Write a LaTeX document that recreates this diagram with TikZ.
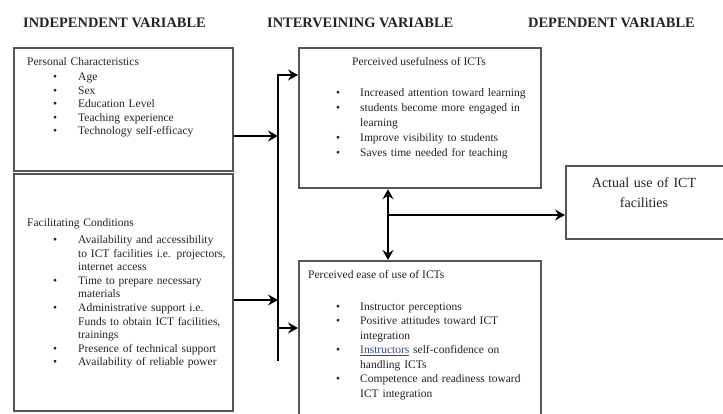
\documentclass[tikz,border=0pt]{standalone}
\usepackage{fontspec}
\setmainfont{Liberation Serif}
\usetikzlibrary{arrows.meta,calc}
\definecolor{boxgray}{RGB}{85,85,85}
\definecolor{txt}{RGB}{35,35,35}
\definecolor{linkblue}{RGB}{55,75,135}
\newlength\itmL
\newlength\itmG
\newcommand\itm[1]{{\leftskip=\itmL\relax\noindent\llap{\textbullet\hspace{\itmG}}#1\par}}
\begin{document}
\begin{tikzpicture}[x=1pt,y=-1pt,
  box/.style={draw=boxgray, line width=2.2pt, anchor=north west, inner sep=0pt},
  hdr/.style={anchor=base west, inner sep=0pt, text=txt, font=\fontsize{14.4}{17}\selectfont\bfseries},
  body/.style={anchor=base west, inner sep=0pt, text=txt, text width=#1, align=left},
  arr/.style={line width=2.3pt, -{Stealth[length=10pt,width=11pt,inset=3.5pt]}},
  darr/.style={line width=2.3pt, {Stealth[length=10pt,width=11pt,inset=3.5pt]}-{Stealth[length=10pt,width=11pt,inset=3.5pt]}},
]
\useasboundingbox (0,0) rectangle (723,413);
\fill[white] (0,0) rectangle (723,413);

% headers
\node[hdr] (h1) at (23,27) {INDEPENDENT VARIABLE};
\node[hdr] (h2) at (267,27) {INTERVEINING VARIABLE};
\node[hdr] (h3) at (528,27) {DEPENDENT VARIABLE};

% boxes
\node[box, minimum width=219pt, minimum height=123pt] (pers) at (13,47) {};
\node[box, minimum width=219pt, minimum height=237pt] (fac) at (13,172.5) {};
\node[box, minimum width=242pt, minimum height=140pt] (useful) at (298,47) {};
\node[box, minimum width=242pt, minimum height=165pt] (ease) at (298,260) {};
\node[box, minimum width=165pt, minimum height=73pt] (actual) at (565,165) {};

% texts
\node[body=210pt, font=\fontsize{11.5}{13.6}\selectfont] (perstext) at (27,65.5) {%
  \setlength\itmL{51pt}\setlength\itmG{21pt}\parindent=0pt
  Personal Characteristics\par\vspace{1.4pt}
  \itm{Age}
  \itm{Sex}
  \itm{Education Level}
  \itm{Teaching experience}
  \itm{Technology self-efficacy}};

\node[body=210pt, font=\fontsize{11.5}{13.6}\selectfont] (factext) at (27,226.5) {%
  \setlength\itmL{51pt}\setlength\itmG{21pt}\parindent=0pt
  Facilitating Conditions\par\vspace{3.4pt}
  \itm{Availability and accessibility\\to ICT facilities i.e. projectors,\\internet access}
  \itm{Time to prepare necessary\\materials}
  \itm{Administrative support i.e.\\Funds to obtain ICT facilities,\\trainings}
  \itm{Presence of technical support}
  \itm{Availability of reliable power}};

\node[anchor=base, inner sep=0pt, text=txt, font=\fontsize{11.5}{13.6}\selectfont] (usefultitle) at (419,65.2) {Perceived usefulness of ICTs};
\node[body=200pt, font=\fontsize{11.5}{15}\selectfont] (usefultext) at (336,96.2) {%
  \setlength\itmL{24pt}\setlength\itmG{20pt}\parindent=0pt
  \itm{Increased attention toward learning}
  \itm{students become more engaged in\\learning}
  \itm{Improve visibility to students}
  \itm{Saves time needed for teaching}};

\node[anchor=base west, inner sep=0pt, text=txt, font=\fontsize{11.5}{13.6}\selectfont] (easetitle) at (308,278.5) {Perceived ease of use of ICTs};
\node[body=200pt, font=\fontsize{11.5}{14.5}\selectfont] (easetext) at (336,310.2) {%
  \setlength\itmL{24pt}\setlength\itmG{20pt}\parindent=0pt
  \itm{Instructor perceptions}
  \itm{Positive attitudes toward ICT\\integration}
  \itm{\textcolor{linkblue}{\underline{Instructors}} self-confidence on\\handling ICTs}
  \itm{Competence and readiness toward\\ICT integration}};

\node[anchor=base, inner sep=0pt, text=txt, text width=150pt, align=center, font=\fontsize{14}{20}\selectfont] (actualtext) at (644,187) {Actual use of ICT\\facilities};

% connectors
\coordinate (bustop) at (278,75);
\coordinate (busbot) at (278,361);
\coordinate (pa) at (0,136);
\coordinate (fa) at (0,300);
\coordinate (ea) at (0,328);
\coordinate (dx) at (388,215);

\draw[arr] (busbot) -- (bustop) -- (useful.west |- bustop);
\draw[arr] (pers.east |- pa) -- (bustop |- pa);
\draw[arr] (fac.east |- fa) -- (bustop |- fa);
\draw[arr] (bustop |- ea) -- (ease.west |- ea);
\draw[darr] (dx |- useful.south) -- (dx |- ease.north);
\draw[arr] (dx) -- (actual.west |- dx);
\end{tikzpicture}
\end{document}
